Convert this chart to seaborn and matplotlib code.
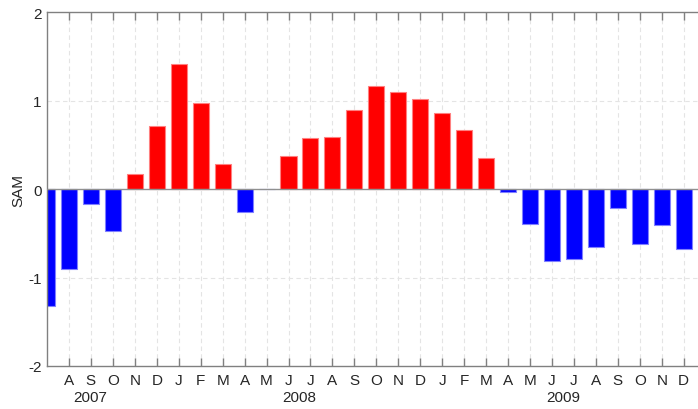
import matplotlib
matplotlib.use("Agg")
import matplotlib.pyplot as plt
import matplotlib.transforms as mtransforms
import seaborn as sns
import pandas as pd
import numpy as np

months = ["J", "A", "S", "O", "N", "D",
          "J", "F", "M", "A", "M", "J", "J", "A", "S", "O", "N", "D",
          "J", "F", "M", "A", "M", "J", "J", "A", "S", "O", "N", "D"]
years = [2007] * 6 + [2008] * 12 + [2009] * 12
sam = [-1.32, -0.90, -0.17, -0.47, 0.175, 0.71,
       1.42, 0.975, 0.28, -0.26, 0.0, 0.38, 0.58, 0.59, 0.89, 1.17, 1.10, 1.02,
       0.865, 0.67, 0.356, -0.036, -0.39, -0.81, -0.79, -0.65, -0.21, -0.62, -0.41, -0.68]
year_labels = ["2007", "2008", "2009"]
year_label_pos = [1.98, 11.5, 23.5]

sns.set_theme(style="white")
plt.rcParams["font.family"] = ["Liberation Sans", "DejaVu Sans"]

keys = [f"{y}-{i:02d}" for i, y in enumerate(years)]
df = pd.DataFrame({"key": keys, "sam": sam,
                   "sign": ["pos" if v > 0 else "neg" for v in sam]})

fig = plt.figure(figsize=(6.98, 4.10), dpi=100)
ax = fig.add_axes([0.0673, 0.1049, 1 - 0.0673, 0.9676 - 0.1049])

# grid
grid_kw = dict(color="#e4e4e4", linestyle=(0, (4, 3)), linewidth=0.8, zorder=0)
for i in range(1, len(months)):
    ax.axvline(i, **grid_kw)
for yv in [-1, 1]:
    ax.axhline(yv, **grid_kw)

sns.barplot(data=df, x="key", y="sam", hue="sign", order=keys,
            palette={"pos": "#ff0000", "neg": "#0000ff"}, dodge=False,
            saturation=1, width=0.73, legend=False, ax=ax, zorder=2, linewidth=0)
for p in ax.patches:
    fc = p.get_facecolor()
    p.set_edgecolor((fc[0] * 0.5 + 0.5, fc[1] * 0.5 + 0.5, fc[2] * 0.5 + 0.5, 1))
    p.set_linewidth(0.8)

ax.axhline(0, color="#909090", linewidth=1.0, zorder=3)

ax.set_xlim(0, 29.65)
ax.set_ylim(-2, 2)
ax.set_yticks([-2, -1, 0, 1, 2])
ax.set_yticklabels(["-2", "-1", "0", "1", "2"], fontsize=11)
ax.set_xticks(range(1, len(months)))
ax.set_xticklabels(months[1:], fontsize=11)
ax.tick_params(axis="x", direction="in", length=6, width=1, color="#808080",
               top=True, bottom=True, pad=5)
ax.tick_params(axis="y", length=0, pad=4)
ax.set_xlabel("")
ax.set_ylabel("SAM", fontsize=11)
ax.yaxis.set_label_coords(-(47 - 25) / (698 * (1 - 0.0673)), 0.5)

for s in ["left", "top", "bottom"]:
    ax.spines[s].set_color("#808080")
    ax.spines[s].set_linewidth(1.0)
ax.spines["right"].set_visible(False)

trans = mtransforms.blended_transform_factory(ax.transData, ax.transAxes)
for lab, pos in zip(year_labels, year_label_pos):
    ax.text(pos, -0.088, lab, transform=trans, ha="center", va="center", fontsize=11)

fig.savefig("out.png", dpi=100)
